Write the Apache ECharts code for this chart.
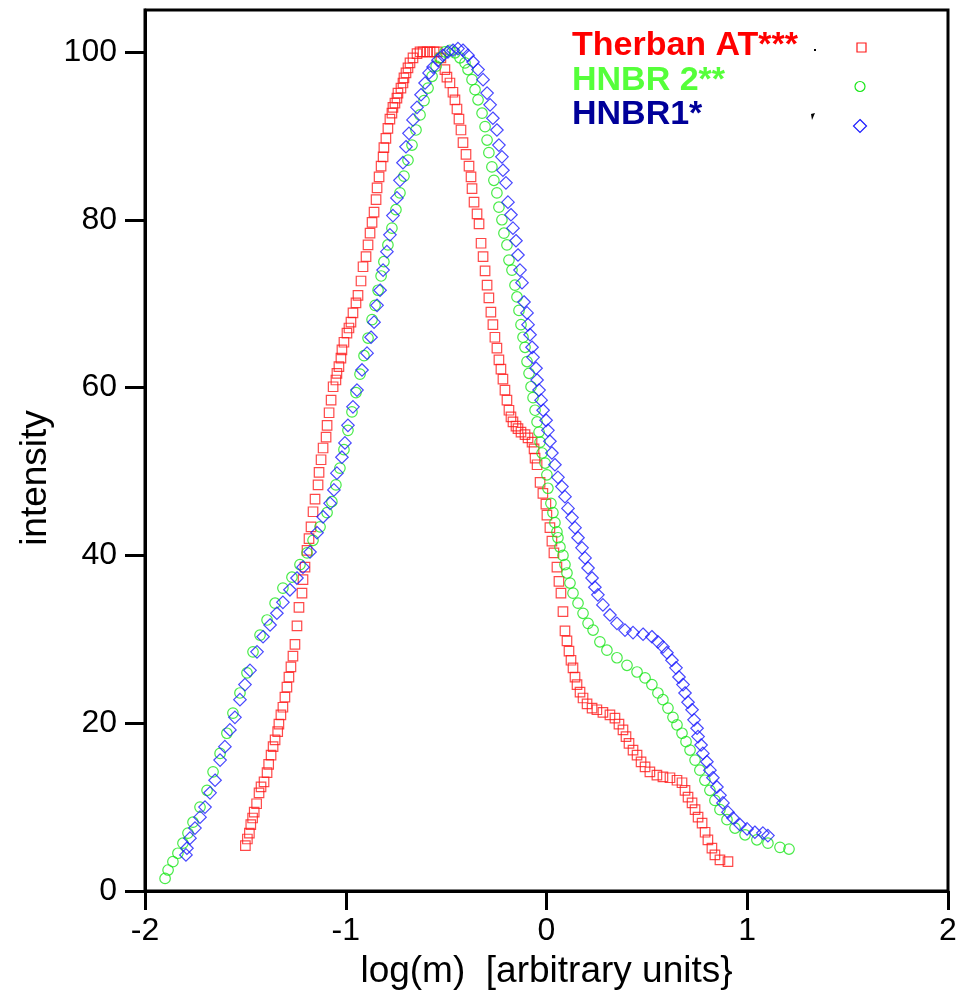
<!DOCTYPE html>
<html>
<head>
<meta charset="utf-8">
<script src="https://cdn.jsdelivr.net/npm/echarts@6/dist/echarts.min.js"></script>
<style>
html,body{margin:0;padding:0;background:#fff;}
#chart{width:961px;height:1007px;}
</style>
</head>
<body>
<div id="chart"></div>
<script>
const seriesNames = ['Therban AT***', 'HNBR 2**', 'HNBR1*'];
const xTicks = [-2, -1, 0, 1, 2];
const yTicks = [0, 20, 40, 60, 80, 100];
const xTitle = 'log(m)  [arbitrary units}';
const yTitle = 'intensity';

const redX = [-1.50,-1.49,-1.48,-1.473,-1.464,-1.456,-1.444,-1.432,-1.422,-1.407,-1.392,-1.384,-1.372,-1.362,-1.352,-1.339,-1.333,-1.323,-1.313,-1.303,-1.293,-1.283,-1.273,-1.263,-1.253,-1.243,-1.233,-1.218,-1.213,-1.203,-1.193,-1.183,-1.173,-1.163,-1.153,-1.138,-1.133,-1.123,-1.113,-1.098,-1.093,-1.083,-1.073,-1.063,-1.049,-1.044,-1.034,-1.024,-1.019,-1.009,-0.994,-0.984,-0.974,-0.964,-0.949,-0.939,-0.924,-0.914,-0.899,-0.889,-0.879,-0.869,-0.859,-0.849,-0.844,-0.834,-0.824,-0.814,-0.810,-0.800,-0.790,-0.780,-0.770,-0.765,-0.755,-0.745,-0.740,-0.725,-0.715,-0.710,-0.700,-0.690,-0.680,-0.665,-0.645,-0.630,-0.615,-0.595,-0.580,-0.560,-0.545,-0.526,-0.506,-0.496,-0.481,-0.466,-0.456,-0.446,-0.436,-0.426,-0.416,-0.401,-0.386,-0.376,-0.371,-0.361,-0.346,-0.336,-0.326,-0.316,-0.306,-0.296,-0.287,-0.277,-0.267,-0.257,-0.247,-0.237,-0.227,-0.217,-0.207,-0.197,-0.187,-0.177,-0.167,-0.152,-0.142,-0.127,-0.107,-0.092,-0.072,-0.062,-0.057,-0.047,-0.032,-0.018,-0.003,0.002,0.017,0.027,0.037,0.052,0.062,0.072,0.082,0.092,0.102,0.112,0.122,0.132,0.142,0.152,0.167,0.182,0.202,0.227,0.251,0.281,0.316,0.341,0.361,0.381,0.396,0.411,0.431,0.451,0.471,0.491,0.515,0.550,0.580,0.615,0.650,0.675,0.690,0.705,0.725,0.740,0.755,0.775,0.790,0.804,0.824,0.839,0.864,0.904];
const redY = [5.4,6.2,6.9,7.9,8.7,9.4,10.4,11.7,12.4,13.0,14.1,15.1,16.2,17.2,18.0,19.0,19.9,21.0,21.9,23.1,24.3,25.5,26.7,28.0,29.4,31.6,33.8,35.5,37.1,38.6,40.6,42.0,43.4,45.2,46.7,48.4,49.9,51.4,52.8,54.1,55.5,57.0,58.5,60.1,60.9,61.7,62.5,63.5,64.5,65.4,66.5,67.1,67.8,68.9,70.1,71.0,72.7,74.4,75.6,77.0,78.4,79.7,80.9,82.4,83.8,85.1,86.4,87.5,88.6,89.7,90.9,92.0,92.7,93.4,93.9,94.5,95.1,95.7,96.3,96.9,97.5,98.1,98.7,99.3,99.8,100,100,100,100,100,100,99.3,97.9,97.0,96.3,95.2,94.3,93.2,92.0,90.7,89.2,87.8,86.4,85.1,83.7,82.1,80.7,79.5,77.2,75.6,73.9,72.2,70.7,69.0,67.5,66.0,64.7,63.3,62.2,61.0,59.7,58.5,57.3,56.5,55.9,55.4,55.1,54.7,54.4,54.0,53.5,52.7,51.6,50.8,48.7,47.4,46.1,44.8,43.3,41.7,40.3,38.6,36.9,35.5,33.3,31.0,29.8,28.6,27.5,26.6,25.5,24.6,23.7,23.0,22.3,21.8,21.6,21.3,21.0,20.6,19.9,19.2,18.4,17.6,16.8,16.2,15.4,14.8,14.2,13.8,13.6,13.5,13.2,12.9,12.0,11.2,10.5,9.7,8.8,8.1,7.0,6.1,5.1,4.3,3.7,3.5];

const greenX = [-1.900,-1.885,-1.861,-1.836,-1.811,-1.786,-1.761,-1.726,-1.691,-1.661,-1.626,-1.592,-1.562,-1.527,-1.492,-1.462,-1.427,-1.392,-1.352,-1.313,-1.268,-1.228,-1.193,-1.163,-1.128,-1.093,-1.069,-1.049,-1.029,-1.009,-0.989,-0.969,-0.949,-0.929,-0.909,-0.889,-0.869,-0.854,-0.839,-0.824,-0.810,-0.790,-0.770,-0.750,-0.730,-0.710,-0.690,-0.670,-0.650,-0.630,-0.610,-0.590,-0.570,-0.550,-0.531,-0.506,-0.481,-0.456,-0.431,-0.406,-0.391,-0.371,-0.356,-0.341,-0.321,-0.306,-0.296,-0.287,-0.272,-0.262,-0.247,-0.237,-0.222,-0.212,-0.197,-0.187,-0.172,-0.157,-0.147,-0.137,-0.127,-0.117,-0.107,-0.097,-0.087,-0.077,-0.067,-0.057,-0.047,-0.037,-0.032,-0.022,-0.007,0.002,0.007,0.022,0.032,0.042,0.052,0.057,0.067,0.082,0.092,0.102,0.117,0.132,0.157,0.182,0.207,0.232,0.266,0.301,0.351,0.401,0.451,0.491,0.525,0.555,0.580,0.605,0.630,0.650,0.675,0.695,0.715,0.740,0.764,0.789,0.814,0.839,0.864,0.899,0.939,0.989,1.048,1.103,1.163,1.208];
const greenY = [1.5,2.5,3.5,4.5,5.7,6.9,8.2,10.0,12.0,14.2,16.4,18.8,21.2,23.6,26.0,28.5,30.5,32.3,34.3,36.1,37.4,38.9,40.3,41.8,43.4,45.1,46.4,48.4,50.4,52.6,54.9,57.1,59.4,61.6,63.8,65.9,68.1,69.8,71.6,73.3,75.0,77.0,79.0,81.2,83.2,85.2,87.1,88.9,90.7,92.5,94.2,95.7,97.1,98.3,99.3,100.0,100.2,99.9,99.3,98.7,97.9,96.7,95.5,94.3,92.7,91.1,89.5,88.0,86.3,84.7,83.2,81.5,80.0,78.4,77.0,75.2,74.0,72.2,70.8,69.2,67.5,66.0,64.8,63.1,61.7,60.1,58.8,57.3,55.9,54.7,53.5,52.2,51.0,49.6,48.0,46.2,45.1,43.9,42.8,42.1,41.0,40.0,38.9,37.9,36.7,35.5,34.3,33.1,31.9,31.1,29.7,28.7,27.8,26.9,26.1,25.4,24.6,23.6,22.8,21.8,20.7,19.8,18.8,17.8,16.8,15.6,14.4,13.2,12.0,10.8,9.7,8.5,7.5,6.7,6.1,5.7,5.2,5.0];

const blueX = [-1.796,-1.791,-1.776,-1.751,-1.726,-1.701,-1.676,-1.651,-1.626,-1.602,-1.577,-1.552,-1.527,-1.502,-1.477,-1.442,-1.412,-1.377,-1.343,-1.313,-1.278,-1.243,-1.213,-1.178,-1.143,-1.113,-1.078,-1.059,-1.044,-1.019,-1.004,-0.989,-0.964,-0.944,-0.919,-0.894,-0.874,-0.859,-0.844,-0.829,-0.814,-0.795,-0.780,-0.765,-0.745,-0.730,-0.715,-0.700,-0.685,-0.665,-0.645,-0.625,-0.605,-0.585,-0.565,-0.541,-0.516,-0.491,-0.466,-0.441,-0.416,-0.391,-0.366,-0.341,-0.316,-0.296,-0.281,-0.267,-0.247,-0.237,-0.222,-0.217,-0.202,-0.192,-0.177,-0.167,-0.152,-0.142,-0.132,-0.122,-0.112,-0.097,-0.092,-0.082,-0.072,-0.067,-0.052,-0.047,-0.037,-0.027,-0.017,-0.002,0.007,0.017,0.027,0.042,0.057,0.077,0.092,0.107,0.127,0.142,0.157,0.177,0.192,0.207,0.227,0.241,0.256,0.281,0.316,0.351,0.391,0.431,0.481,0.525,0.555,0.580,0.600,0.625,0.645,0.660,0.680,0.690,0.705,0.725,0.735,0.750,0.755,0.770,0.779,0.799,0.814,0.829,0.849,0.864,0.879,0.904,0.929,0.964,0.999,1.038,1.078,1.103];
const blueY = [4.3,5.1,6.3,7.5,8.8,10.0,11.7,13.2,15.6,17.2,19.2,20.7,22.8,24.6,26.3,28.5,30.3,31.7,33.1,34.4,35.9,37.3,38.6,40.4,42.7,44.6,46.2,47.8,49.8,51.7,53.4,55.5,57.7,59.7,62.1,64.1,66.0,67.8,69.8,71.6,74.0,76.2,78.2,80.5,82.6,84.7,86.8,88.7,90.3,91.9,93.4,94.9,96.3,97.5,98.2,99.0,99.6,100.0,100.2,100.4,100.2,99.6,98.8,97.9,96.7,95.1,93.7,92.1,90.7,88.9,87.5,85.9,84.4,82.1,80.6,79.0,77.5,75.8,74.0,72.5,70.2,68.9,67.5,66.3,64.8,63.6,62.3,60.9,59.7,58.5,57.3,56.1,54.9,53.6,52.2,50.8,49.3,48.2,47.0,45.6,44.5,43.3,42.1,40.9,39.7,38.5,37.3,36.2,35.3,34.1,32.9,31.9,31.1,30.8,30.6,30.3,29.7,29.1,28.4,27.5,26.6,25.5,24.6,23.6,22.5,21.6,20.4,19.4,18.4,17.4,16.4,15.4,14.4,13.5,12.4,11.4,10.5,9.4,8.7,7.9,7.4,7.0,6.9,6.6];

function pairs(xs, ys) { return xs.map((x, i) => [x, ys[i]]); }

const FONT = '"Liberation Sans", Arial, Helvetica, sans-serif';
const chart = echarts.init(document.getElementById('chart'), null, {renderer: 'canvas'});

const markerStyles = [
  {symbol: 'rect', size: 9.5, color: '#ff1a1a', text: '#ff0000'},
  {symbol: 'circle', size: 10.5, color: '#19e619', text: '#55ff3a'},
  {symbol: 'diamond', size: 12.5, color: '#1a1aff', text: '#000099'}
];
const seriesData = [pairs(redX, redY), pairs(greenX, greenY), pairs(blueX, blueY)];

chart.setOption({
  animation: false,
  backgroundColor: '#ffffff',
  grid: {left: 145, right: 13, top: 10, bottom: 116, show: true, borderColor: '#000', borderWidth: 3, backgroundColor: 'transparent'},
  xAxis: {
    type: 'value', min: -2, max: 2, interval: 1,
    name: xTitle, nameLocation: 'middle', nameGap: 62,
    nameTextStyle: {fontFamily: FONT, fontSize: 37, color: '#000'},
    axisLine: {show: true, onZero: false, lineStyle: {color: '#000', width: 3}},
    axisTick: {show: true, inside: false, length: 19, lineStyle: {color: '#000', width: 3}, customValues: xTicks},
    axisLabel: {fontFamily: FONT, fontSize: 32, color: '#000', margin: 24, customValues: xTicks},
    splitLine: {show: false}
  },
  yAxis: {
    type: 'value', min: 0, max: 105, interval: 20,
    axisLine: {show: true, onZero: false, lineStyle: {color: '#000', width: 3}},
    axisTick: {show: true, inside: false, length: 20, lineStyle: {color: '#000', width: 3}, customValues: yTicks},
    axisLabel: {fontFamily: FONT, fontSize: 32, color: '#000', margin: 28, customValues: yTicks},
    splitLine: {show: false}
  },
  series: seriesNames.map((name, i) => ({
    name: name,
    type: 'scatter',
    data: seriesData[i],
    symbol: markerStyles[i].symbol,
    symbolSize: markerStyles[i].size,
    itemStyle: {color: 'rgba(255,255,255,0)', borderColor: markerStyles[i].color, borderWidth: 1.2},
    emphasis: {disabled: true},
    z: 2 + i
  })),
  graphic: [
    {type: 'text', x: 36, y: 478, rotation: Math.PI / 2, style: {text: yTitle, fill: '#000', font: '37px ' + FONT, align: 'center', verticalAlign: 'middle'}},
    {type: 'text', left: 572, top: 29, style: {text: seriesNames[0], fill: markerStyles[0].text, font: 'bold 34px ' + FONT}},
    {type: 'text', left: 572, top: 64, style: {text: seriesNames[1], fill: markerStyles[1].text, font: 'bold 34px ' + FONT}},
    {type: 'text', left: 572, top: 98, style: {text: seriesNames[2], fill: markerStyles[2].text, font: 'bold 34px ' + FONT}},
    {type: 'rect', shape: {x: 857, y: 43, width: 9, height: 9}, style: {fill: 'none', stroke: '#ff1a1a', lineWidth: 1.2}},
    {type: 'circle', shape: {cx: 860, cy: 86.5, r: 5}, style: {fill: 'none', stroke: '#19e619', lineWidth: 1.2}},
    {type: 'polygon', shape: {points: [[860, 119.5], [866.5, 126], [860, 132.5], [853.5, 126]]}, style: {fill: 'none', stroke: '#1a1aff', lineWidth: 1.2}},
    {type: 'rect', shape: {x: 814, y: 49, width: 2, height: 2}, style: {fill: '#000'}},
    {type: 'polygon', shape: {points: [[811, 114], [815, 113], [812, 120]]}, style: {fill: '#000'}}
  ]
});
</script>
</body>
</html>
